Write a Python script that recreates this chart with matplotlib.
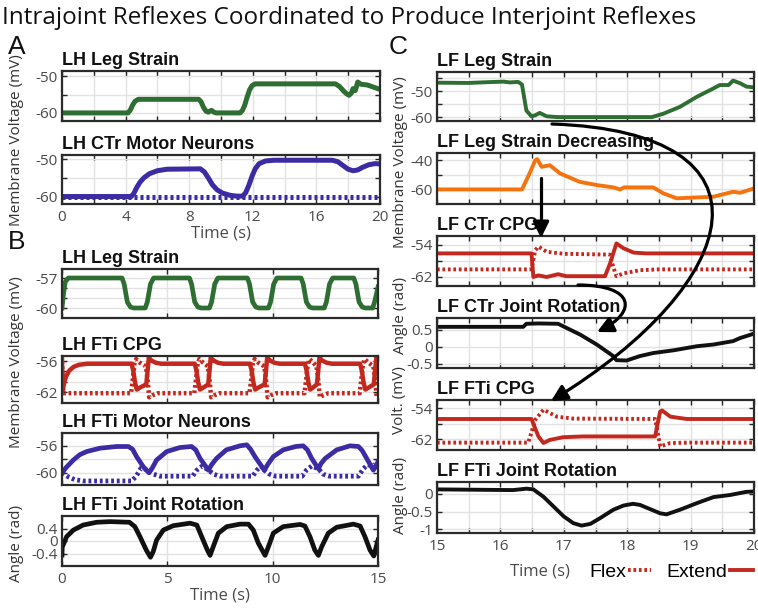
import matplotlib
matplotlib.use('Agg')
import matplotlib.pyplot as plt
from matplotlib.path import Path
from matplotlib.patches import FancyArrowPatch

plt.rcParams['font.family'] = ['Open Sans', 'DejaVu Sans']
plt.rcParams['axes.unicode_minus'] = False

GREEN = '#2f6e32'
BLUE = '#3b2ca3'
RED = '#c3281e'
ORANGE = '#f4730f'
BLACK = '#111111'

# ---- panel A (0-20 s) ----
a_strain_t = [0, 4.15, 4.3, 4.45, 4.6, 4.8, 8.6, 8.75, 8.9, 9.05, 9.2, 9.4, 9.55, 9.7, 9.9,
              11.2, 11.35, 11.5, 11.65, 11.8, 11.95, 12.15, 17.2, 17.45, 17.7, 17.9, 18.05,
              18.2, 18.3, 18.45, 18.6, 18.8, 19.2, 19.6, 20.0]
a_strain_v = [-60, -60, -59.2, -57.8, -56.8, -56.3, -56.3, -57.0, -58.5, -59.5, -59.8, -59.3,
              -59.8, -60, -60, -60, -59.3, -57.8, -55.6, -53.7, -52.6, -52.1, -52.1, -52.8,
              -54.0, -54.8, -55.2, -54.6, -53.4, -53.9, -51.6, -52.2, -52.4, -53.0, -53.6]

a_mn_t = [0, 4.35, 4.5, 4.7, 4.9, 5.15, 5.5, 6.0, 6.6, 8.7, 8.95, 9.2, 9.45, 9.75, 10.1, 10.6,
          11.0, 11.35, 11.55, 11.75, 11.95, 12.15, 12.4, 12.8, 13.3, 17.0, 17.35, 17.7, 18.0,
          18.3, 18.6, 18.9, 19.3, 19.7, 20.0]
a_mn_v = [-60, -60, -59.3, -57.6, -56.2, -55.0, -53.9, -53.1, -52.7, -52.6, -53.4, -55.0,
          -56.8, -58.2, -59.1, -59.7, -59.9, -59.9, -59.0, -57.0, -54.6, -52.6, -51.2, -50.5,
          -50.3, -50.3, -50.7, -51.8, -52.7, -53.1, -52.9, -52.2, -51.5, -51.2, -51.3]
a_mn_flex_t = [0, 20]
a_mn_flex_v = [-60, -60]

# ---- panel B (0-15 s) ----
b_strain_t = [0, 0.06, 0.15, 0.3,
              2.85, 2.95, 3.1, 3.25, 3.4, 3.95, 4.05, 4.2, 4.35,
              6.05, 6.15, 6.3, 6.45, 6.6, 7.0, 7.1, 7.25, 7.4,
              8.8, 8.9, 9.05, 9.2, 9.35, 9.8, 9.9, 10.05, 10.2,
              11.35, 11.45, 11.6, 11.75, 11.9, 12.45, 12.55, 12.7, 12.85,
              13.85, 13.95, 14.1, 14.25, 14.4, 14.75, 14.85, 15.0]
b_strain_v = [-60, -58.8, -57.4, -57,
              -57, -57.6, -59.4, -59.9, -60, -60, -59.4, -57.6, -57,
              -57, -57.6, -59.4, -59.9, -60, -60, -59.4, -57.6, -57,
              -57, -57.6, -59.4, -59.9, -60, -60, -59.4, -57.6, -57,
              -57, -57.6, -59.4, -59.9, -60, -60, -59.4, -57.6, -57,
              -57, -57.6, -59.4, -59.9, -60, -60, -59.3, -57.9]

b_ext_t = [0, 0.03, 0.1, 0.2, 0.35, 0.55, 0.8, 1.2,
           3.3, 3.38, 3.47, 3.55, 3.75, 4.0, 4.06, 4.12, 4.25, 4.45, 4.7,
           6.3, 6.38, 6.47, 6.55, 6.75, 6.94, 7.0, 7.06, 7.2, 7.4, 7.65,
           8.92, 9.0, 9.09, 9.17, 9.37, 9.62, 9.68, 9.74, 9.88, 10.08, 10.33,
           11.53, 11.61, 11.7, 11.78, 11.95, 12.1, 12.16, 12.22, 12.36, 12.56, 12.81,
           14.15, 14.23, 14.32, 14.4, 14.6, 14.8, 14.86, 14.92, 15.0]
b_ext_v = [-55.5, -61.8, -60.2, -58.9, -57.8, -57.1, -56.7, -56.5,
           -56.5, -57.8, -60.2, -61.5, -61.0, -60.5, -58.0, -55.3, -55.9, -56.3, -56.5,
           -56.5, -57.8, -60.2, -61.5, -61.0, -60.5, -58.0, -55.3, -55.9, -56.3, -56.5,
           -56.5, -57.8, -60.2, -61.5, -61.0, -60.5, -58.0, -55.3, -55.9, -56.3, -56.5,
           -56.5, -57.8, -60.2, -61.5, -61.0, -60.5, -58.0, -55.3, -55.9, -56.3, -56.5,
           -56.5, -57.8, -60.2, -61.5, -61.0, -60.5, -58.0, -55.3, -55.7]
b_flex_t = [0, 0.06,
            3.28, 3.36, 3.44, 3.52, 3.7, 3.98, 4.06, 4.14, 4.3, 4.55,
            6.28, 6.36, 6.44, 6.52, 6.7, 6.92, 7.0, 7.08, 7.24, 7.49,
            8.9, 8.98, 9.06, 9.14, 9.32, 9.6, 9.68, 9.76, 9.92, 10.17,
            11.51, 11.59, 11.67, 11.75, 11.93, 12.08, 12.16, 12.24, 12.4, 12.65,
            14.13, 14.21, 14.29, 14.37, 14.55, 14.78, 14.86, 14.94, 15.0]
b_flex_v = [-56.0, -62.2,
            -62.2, -59.5, -56.5, -55.6, -56.3, -57.0, -59.5, -63.0, -62.6, -62.2,
            -62.2, -59.5, -56.5, -55.6, -56.3, -57.0, -59.5, -63.0, -62.6, -62.2,
            -62.2, -59.5, -56.5, -55.6, -56.3, -57.0, -59.5, -63.0, -62.6, -62.2,
            -62.2, -59.5, -56.5, -55.6, -56.3, -57.0, -59.5, -63.0, -62.6, -62.2,
            -62.2, -59.5, -56.5, -55.6, -56.3, -57.0, -59.5, -63.0, -62.8]

b_mn_ext_t = [0, 0.2, 0.54, 0.85, 1.17, 1.8, 2.6, 3.15, 3.35, 3.54, 3.86, 4.13, 4.3, 4.49,
              4.97, 5.6, 6.15, 6.35, 6.55, 6.95, 7.1, 7.34, 7.8, 8.45, 8.77, 8.95, 9.16, 9.6,
              9.8, 10.03, 10.5, 11.1, 11.45, 11.65, 11.85, 12.17, 12.3, 12.5, 13.04, 13.67,
              14.07, 14.25, 14.46, 14.78, 14.9, 15.0]
b_mn_ext_v = [-60, -59.2, -58.1, -57.3, -56.85, -56.35, -56.1, -56.1, -56.5, -57.6, -59.1, -60,
              -59.2, -58.1, -56.85, -56.25, -56.1, -56.6, -57.85, -59.6, -58.8, -57.85, -56.6,
              -56.0, -55.85, -56.5, -57.6, -59.6, -58.6, -57.6, -56.6, -56.1, -56.0, -56.6,
              -57.85, -59.4, -58.6, -57.85, -56.6, -56.0, -56.1, -56.7, -57.85, -59.6, -59.0,
              -58.35]
b_mn_flex_t = [0, 0.3, 0.6, 1.0, 3.3, 3.5, 3.75, 4.1, 4.35, 4.65, 6.2, 6.4, 6.65, 6.95, 7.2,
               7.5, 9.05, 9.25, 9.45, 9.6, 9.85, 10.15, 11.4, 11.6, 11.85, 12.17, 12.4, 12.7,
               14.07, 14.3, 14.5, 14.78, 15.0]
b_mn_flex_v = [-60, -60.6, -61.0, -61.2, -61.2, -60.6, -59.3, -59.6, -60.2, -60.5, -60.5,
               -59.6, -59.0, -59.6, -60.2, -60.5, -60.5, -59.6, -59.0, -59.6, -60.2, -60.5,
               -60.5, -59.6, -59.0, -59.4, -60.2, -60.5, -60.5, -59.4, -58.8, -59.0, -58.2]

b_joint_t = [0, 0.01, 0.22, 0.54, 1.0, 1.65, 2.28, 3.2, 3.46, 3.7, 4.0, 4.2, 4.33, 4.49, 4.81,
             5.28, 6.08, 6.4, 6.63, 6.9, 7.03, 7.18, 7.42, 7.82, 8.45, 8.85, 9.08, 9.32, 9.64,
             9.8, 10.03, 10.5, 11.3, 11.53, 11.77, 12.0, 12.17, 12.33, 12.64, 13.04, 13.83,
             14.15, 14.38, 14.62, 14.8, 15.0]
b_joint_v = [-0.45, -0.2, 0.14, 0.35, 0.51, 0.6, 0.62, 0.6, 0.46, 0.14, -0.29, -0.52, -0.34,
             0.03, 0.35, 0.49, 0.57, 0.51, 0.14, -0.29, -0.46, -0.18, 0.25, 0.46, 0.54, 0.54,
             0.35, -0.07, -0.46, -0.18, 0.25, 0.46, 0.53, 0.48, 0.14, -0.29, -0.46, -0.18,
             0.25, 0.44, 0.54, 0.48, 0.14, -0.29, -0.48, 0.03]

# ---- panel C (15-20 s) ----
c_strain_t = [15, 15.5, 15.8, 16.05, 16.15, 16.28, 16.34, 16.41, 16.49, 16.55, 16.62, 16.73,
              16.9, 18.39, 18.57, 18.83, 19.1, 19.36, 19.46, 19.6, 19.67, 19.78, 19.88, 20]
c_strain_v = [-46.8, -46.9, -46.6, -46.4, -46.7, -46.5, -47.5, -57.5, -59.7, -59.3, -58.4,
              -59.7, -60, -60, -58.7, -56.1, -52.2, -49, -47.7, -47.7, -46, -47, -48.3, -48.6]

c_dec_t = [15, 16.34, 16.45, 16.55, 16.58, 16.65, 16.78, 16.94, 17.25, 17.52, 17.78, 17.89,
           17.95, 18.41, 18.57, 18.78, 19.1, 19.36, 19.57, 19.67, 19.78, 20]
c_dec_v = [-60, -60, -50, -40, -39.2, -44.5, -43.4, -49, -54.8, -57, -58.6, -60, -58.6,
           -58.6, -62.7, -66.1, -65.5, -65, -62.7, -61.6, -62.3, -59.3]

c_ctr_ext_t = [15, 16.49, 16.52, 16.6, 16.73, 16.91, 17.04, 17.65, 17.73, 17.83, 17.94, 18.1,
               18.3, 20]
c_ctr_ext_v = [-56.1, -56.1, -62, -61.6, -62, -61.3, -61.8, -61.8, -58.6, -53.6, -54.8, -55.9,
               -56.1, -56.1]
c_ctr_flex_t = [15, 16.49, 16.55, 16.6, 16.73, 17.0, 17.73, 17.78, 17.83, 17.94, 18.2, 18.5, 20]
c_ctr_flex_v = [-60.1, -60.1, -55.3, -54.4, -55.7, -56.2, -56.4, -59.5, -61.8, -61.1, -60.3,
                -60.1, -60.1]

c_ctr_joint_t = [15, 16.36, 16.41, 16.6, 16.91, 17.26, 17.52, 17.78, 17.83, 17.99, 18.2, 18.41,
                 18.73, 19.1, 19.36, 19.67, 19.78, 20]
c_ctr_joint_v = [0.58, 0.58, 0.67, 0.68, 0.67, 0.35, 0.06, -0.28, -0.40, -0.41, -0.28, -0.19,
                 -0.11, 0.01, 0.06, 0.16, 0.25, 0.38]

c_fti_ext_t = [15, 16.49, 16.6, 16.68, 16.78, 16.99, 17.3, 18.44, 18.48, 18.52, 18.55, 18.68,
               18.94, 20]
c_fti_ext_v = [-56.8, -56.8, -61.3, -63.0, -62.2, -61.5, -61.3, -61.3, -58, -54.9, -54.6,
               -56.2, -56.8, -56.8]
c_fti_flex_t = [15, 16.44, 16.55, 16.68, 16.89, 17.15, 18.44, 18.5, 18.52, 18.68, 19.0, 20]
c_fti_flex_v = [-62.9, -62.9, -57.0, -54.4, -56.2, -56.7, -56.8, -62, -63.9, -63.0, -62.9, -62.9]

c_fti_joint_t = [15, 16.2, 16.41, 16.52, 16.68, 16.84, 17.0, 17.15, 17.28, 17.42, 17.57, 17.78,
                 17.94, 18.09, 18.2, 18.36, 18.52, 18.62, 18.83, 19.1, 19.36, 19.62, 19.88, 20]
c_fti_joint_v = [0.13, 0.11, 0.15, 0.13, -0.08, -0.36, -0.64, -0.83, -0.9, -0.85, -0.69, -0.45,
                 -0.33, -0.28, -0.31, -0.43, -0.55, -0.58, -0.45, -0.26, -0.09, -0.03, 0.06, 0.07]

W, H = 758, 608
fig = plt.figure(figsize=(W / 100, H / 100), dpi=100)


def px(x, y):
    return x / W, 1 - y / H


def add_ax(l, t, r, b):
    return fig.add_axes([l / W, 1 - b / H, (r - l) / W, (b - t) / H])


def style(ax, title, xlim, xticks, xlabels, ylim, yticks, ylabels):
    ax.set_xlim(xlim)
    ax.set_ylim(ylim)
    ax.set_xticks(xticks)
    ax.set_xticklabels(xlabels if xlabels else [''] * len(xticks))
    ax.set_yticks(yticks)
    ax.set_yticklabels(ylabels)
    ax.grid(True, color='#e2e2e2', lw=1.0)
    ax.set_axisbelow(True)
    ax.tick_params(direction='in', top=True, right=True, length=3.5, width=1,
                   colors='#262626', labelcolor='#4a4a4a', labelsize=11)
    ax.tick_params(axis='x', pad=4)
    ax.tick_params(axis='y', pad=3)
    for s in ax.spines.values():
        s.set_linewidth(1.6)
        s.set_color('#2b2b2b')
    ax.set_title(title, loc='left', fontsize=13, fontweight='bold',
                 family='Liberation Sans', color='#111111', pad=4)


a_xt = list(range(0, 21, 2))
a_xl = [str(t) if t % 4 == 0 else '' for t in a_xt]
b_xt = [0, 5, 10, 15]
c_xt = [15 + 0.5 * i for i in range(11)]
c_xl = [str(int(t)) if t == int(t) else '' for t in c_xt]

# panel A
ax = add_ax(62, 71, 380, 121)
ax.plot(a_strain_t, a_strain_v, color=GREEN, lw=3.6)
style(ax, 'LH Leg Strain', (0, 20), a_xt, None, (-62.2, -48.6), [-60, -55, -50], ['-60', '', '-50'])

ax = add_ax(62, 155, 380, 204)
ax.plot(a_mn_flex_t, a_mn_flex_v, color=BLUE, lw=3.6, ls=(0, (0.6, 0.6)), dash_capstyle='butt')
ax.plot(a_mn_t, a_mn_v, color=BLUE, lw=3.6)
style(ax, 'LH CTr Motor Neurons', (0, 20), a_xt, a_xl, (-62, -48.9), [-60, -55, -50], ['-60', '', '-50'])
ax.set_xlabel('Time (s)', fontsize=12, color='#4a4a4a', labelpad=1)

# panel B
ax = add_ax(62, 269, 378, 318)
ax.plot(b_strain_t, b_strain_v, color=GREEN, lw=3.4)
style(ax, 'LH Leg Strain', (0, 15), b_xt, None, (-61, -56.1), [-60, -59, -58, -57], ['-60', '', '', '-57'])

ax = add_ax(62, 356, 378, 403)
ax.plot(b_flex_t, b_flex_v, color=RED, lw=3.2, ls=(0, (0.6, 0.6)), dash_capstyle='butt')
ax.plot(b_ext_t, b_ext_v, color=RED, lw=3.2)
style(ax, 'LH FTi CPG', (0, 15), b_xt, None, (-64.1, -55), [-62, -60, -58, -56], ['-62', '', '', '-56'])

ax = add_ax(62, 433, 378, 485)
ax.plot(b_mn_flex_t, b_mn_flex_v, color=BLUE, lw=3.4, ls=(0, (0.6, 0.6)), dash_capstyle='butt')
ax.plot(b_mn_ext_t, b_mn_ext_v, color=BLUE, lw=3.4)
style(ax, 'LH FTi Motor Neurons', (0, 15), b_xt, None, (-61.8, -54.1), [-60, -58, -56], ['-60', '', '-56'])

ax = add_ax(62, 516, 378, 566)
ax.plot(b_joint_t, b_joint_v, color=BLACK, lw=3.4)
style(ax, 'LH FTi Joint Rotation', (0, 15), b_xt, ['0', '5', '10', '15'], (-0.8, 0.8),
      [-0.4, 0, 0.4], ['-0.4', '0', '0.4'])
ax.set_xlabel('Time (s)', fontsize=12, color='#4a4a4a', labelpad=1)

# panel C
ax = add_ax(437, 72, 754, 121)
ax.plot(c_strain_t, c_strain_v, color=GREEN, lw=2.8)
style(ax, 'LF Leg Strain', (15, 20), c_xt, None, (-61.5, -42.7), [-60, -55, -50, -45], ['-60', '', '-50', ''])

ax = add_ax(437, 153, 754, 204)
ax.plot(c_dec_t, c_dec_v, color=ORANGE, lw=2.8)
style(ax, 'LF Leg Strain Decreasing', (15, 20), c_xt, None, (-70, -35), [-60, -50, -40], ['-60', '', '-40'])

ax = add_ax(437, 236, 754, 286)
ax.plot(c_ctr_flex_t, c_ctr_flex_v, color=RED, lw=2.8, ls=(0, (0.7, 0.7)), dash_capstyle='butt')
ax.plot(c_ctr_ext_t, c_ctr_ext_v, color=RED, lw=2.8)
style(ax, 'LF CTr CPG', (15, 20), c_xt, None, (-64.25, -51.75), [-62, -58, -54], ['-62', '', '-54'])

ax = add_ax(437, 318, 754, 368)
ax.plot(c_ctr_joint_t, c_ctr_joint_v, color=BLACK, lw=2.8)
style(ax, 'LF CTr Joint Rotation', (15, 20), c_xt, None, (-0.63, 0.84), [-0.5, 0, 0.5], ['-0.5', '0', '0.5'])

ax = add_ax(437, 400, 754, 450)
flex_line, = ax.plot(c_fti_flex_t, c_fti_flex_v, color=RED, lw=2.8, ls=(0, (0.7, 0.7)),
                     dash_capstyle='butt')
ext_line, = ax.plot(c_fti_ext_t, c_fti_ext_v, color=RED, lw=2.8)
style(ax, 'LF FTi CPG', (15, 20), c_xt, None, (-64.8, -51.9), [-62, -58, -54], ['-62', '', '-54'])

ax = add_ax(437, 482, 754, 533)
ax.plot(c_fti_joint_t, c_fti_joint_v, color=BLACK, lw=2.8)
style(ax, 'LF FTi Joint Rotation', (15, 20), c_xt, c_xl, (-1.11, 0.34), [-1, -0.5, 0], ['-1', '-0.5', '0'])
ax.set_xlabel('Time (s)', fontsize=12, color='#4a4a4a')
ax.xaxis.set_label_coords((540 - 437) / 317, -0.6)

fig.legend([flex_line, ext_line], ['Flex', 'Extend'], loc='center left',
           bbox_to_anchor=px(589, 572), ncol=2, frameon=False, markerfirst=False,
           handlelength=1.2, handletextpad=0.1, columnspacing=0.8, borderpad=0,
           borderaxespad=0, prop={'family': 'Liberation Sans', 'size': 14})

# y labels
ylab = dict(rotation=90, ha='center', va='center', fontsize=11, color='#333333')
fig.text(*px(17, 140), 'Membrane Voltage (mV)', **ylab)
fig.text(*px(17, 362), 'Membrane Voltage (mV)', **ylab)
fig.text(*px(17, 543), 'Angle (rad)', **ylab)
fig.text(*px(400, 162), 'Membrane Voltage (mV)', **ylab)
fig.text(*px(400, 316), 'Angle (rad)', **ylab)
fig.text(*px(400, 400), 'Volt. (mV)', **ylab)
fig.text(*px(400, 495), 'Angle (rad)', **ylab)

# panel letters and title
for letter, (x, y) in [('A', (17, 47)), ('B', (17, 242)), ('C', (398, 47))]:
    fig.text(*px(x, y), letter, ha='center', va='center', fontsize=19,
             family='Liberation Sans', color='#111111')
fig.text(*px(2, 18), 'Intrajoint Reflexes Coordinated to Produce Interjoint Reflexes',
         ha='left', va='center', fontsize=17.5, color='#111111')

# arrows linking panel C traces
arrow_kw = dict(arrowstyle='-|>', mutation_scale=24, lw=2.3, color='black',
                transform=fig.transFigure)
curve4 = [Path.MOVETO, Path.CURVE4, Path.CURVE4, Path.CURVE4]
big = [px(552, 124), px(785, 132), px(745, 282), px(551, 401)]
small = [px(578, 285), px(635, 285), px(638, 312), px(597, 332)]
down = [px(541, 178), px(541, 238)]
fig.add_artist(FancyArrowPatch(path=Path(big, curve4), **arrow_kw))
fig.add_artist(FancyArrowPatch(path=Path(small, curve4), **arrow_kw))
fig.add_artist(FancyArrowPatch(path=Path(down, [Path.MOVETO, Path.LINETO]), **arrow_kw))

fig.savefig('out.png', dpi=100)
